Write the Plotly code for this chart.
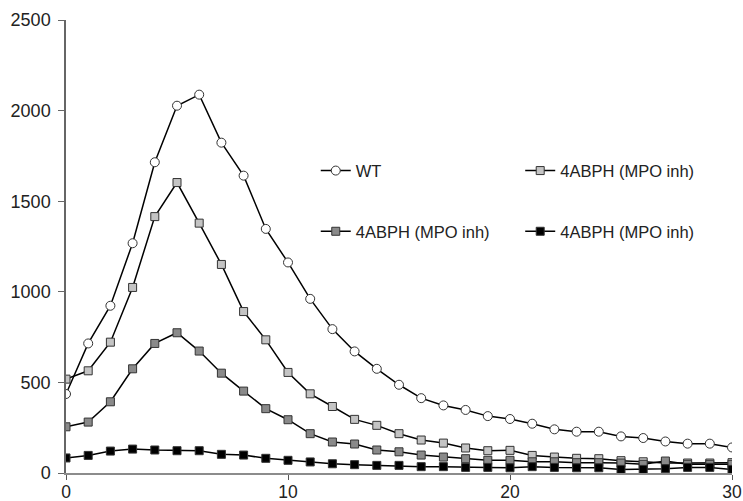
import plotly.graph_objects as go

x_vals = list(range(0, 31))
wt = [436, 715, 923, 1268, 1715, 2027, 2088, 1823, 1641, 1347, 1162, 961, 794, 671, 575,
      487, 413, 373, 348, 314, 298, 272, 241, 228, 228, 202, 193, 174, 162, 162, 141]
light = [518, 564, 722, 1024, 1415, 1603, 1379, 1151, 891, 735, 555, 437, 367, 296, 263,
         217, 182, 165, 138, 123, 125, 97, 88, 81, 79, 68, 62, 55, 55, 55, 57]
dark = [255, 281, 393, 575, 715, 774, 673, 551, 452, 355, 294, 217, 171, 160, 127,
        117, 99, 88, 79, 70, 70, 62, 62, 57, 57, 55, 48, 66, 48, 48, 48]
black = [83, 97, 121, 132, 127, 123, 123, 103, 99, 81, 70, 61, 51, 46, 42,
         42, 35, 35, 31, 31, 29, 35, 31, 29, 29, 20, 20, 24, 31, 31, 20]
names = ["WT", "4ABPH (MPO inh)", "4ABPH (MPO inh)", "4ABPH (MPO inh)"]
x_ticks = [0, 10, 20, 30]
y_ticks = [0, 500, 1000, 1500, 2000, 2500]

series = [
    (names[0], wt, "circle", "white", 9, "legend"),
    (names[1], light, "square", "#c4c4c4", 8, "legend2"),
    (names[2], dark, "square", "#8a8a8a", 8, "legend3"),
    (names[3], black, "square", "black", 8, "legend4"),
]

fig = go.Figure()
for name, ys, sym, col, sz, leg in series:
    fig.add_trace(go.Scatter(
        x=x_vals, y=ys, mode="lines+markers", name=name, legend=leg, showlegend=True,
        line=dict(color="black", width=1.5),
        marker=dict(symbol=sym, size=sz, color=col, line=dict(color="#333333", width=1)),
    ))

font = dict(family="Liberation Sans, Arial, sans-serif", size=16.5, color="#222222")
legcommon = dict(font=font, bgcolor="rgba(0,0,0,0)", xanchor="left", yanchor="middle",
                 itemwidth=30, tracegroupgap=0, visible=True)
fig.update_layout(
    width=743, height=501,
    margin=dict(l=66, r=11, t=20, b=28, autoexpand=False),
    plot_bgcolor="white", paper_bgcolor="white",
    font=font,
    showlegend=True,
    legend=dict(x=0.375, y=0.667, **legcommon),
    legend2=dict(x=0.682, y=0.667, **legcommon),
    legend3=dict(x=0.375, y=0.533, **legcommon),
    legend4=dict(x=0.682, y=0.533, **legcommon),
    xaxis=dict(range=[0, 30], tickvals=x_ticks, ticktext=[str(v) for v in x_ticks],
               showgrid=False, zeroline=False, showline=True, linecolor="#8c8c8c", linewidth=1.5,
               ticks="outside", ticklen=5, tickcolor="#555555", tickfont=dict(size=17.5),
               ticklabelstandoff=-3, automargin=False),
    yaxis=dict(range=[0, 2500], tickvals=y_ticks, ticktext=[str(v) for v in y_ticks],
               showgrid=False, zeroline=False, showline=True, linecolor="#666666", linewidth=1.5,
               ticks="outside", ticklen=6, tickcolor="#666666", tickfont=dict(size=18),
               ticklabelstandoff=4, automargin=False),
)
fig.write_html("out.html", config={"displayModeBar": False},
               post_script="document.body.style.margin='0';")
